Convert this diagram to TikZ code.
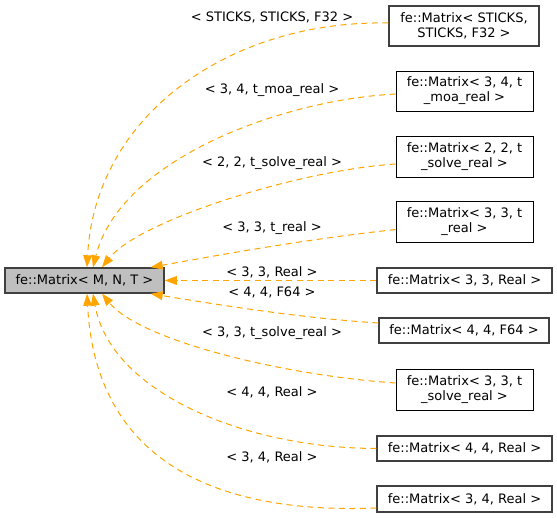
\documentclass[tikz,border=0pt]{standalone}
\usepackage{fontspec}
\setmainfont{DejaVu Sans}
\usetikzlibrary{arrows.meta}
\definecolor{edgeorange}{HTML}{FFA500}
\definecolor{basefill}{HTML}{BFBFBF}
\definecolor{boxborder}{HTML}{404040}
\begin{document}
\begin{tikzpicture}[x=1pt,y=-1pt,
  font=\fontsize{13}{15}\selectfont,
  box/.style={draw=boxborder, line width=1.3pt, fill=white, inner sep=0pt, align=center},
  thinbox/.style={draw=black, line width=0.8pt, fill=white, inner sep=0pt, align=center},
  basebox/.style={draw=boxborder, line width=1.5pt, fill=basefill, inner sep=0pt},
  edge/.style={draw=edgeorange, line width=1pt, dash pattern=on 6pt off 4.5pt,
    -{Triangle[length=12pt,width=9pt,fill=edgeorange,line width=0pt]}},
  lbl/.style={inner sep=0pt}]
\useasboundingbox (0,0) rectangle (557,518);

\node[basebox, minimum width=159pt, minimum height=25pt] (base) at (84.5,280.5) {fe::Matrix< M, N, T >};

\node[box, minimum width=150pt, minimum height=40pt] (n1) at (464,26) {fe::Matrix< STICKS,\\STICKS, F32 >};
\node[thinbox, minimum width=137pt, minimum height=40pt] (n2) at (464.5,91) {fe::Matrix< 3, 4, t\\\_moa\_real >};
\node[thinbox, minimum width=137pt, minimum height=41pt] (n3) at (464.5,156.5) {fe::Matrix< 2, 2, t\\\_solve\_real >};
\node[thinbox, minimum width=137pt, minimum height=41pt] (n4) at (464.5,221.5) {fe::Matrix< 3, 3, t\\\_real >};
\node[box, minimum width=175pt, minimum height=25pt] (n5) at (464.5,280.5) {fe::Matrix< 3, 3, Real >};
\node[box, minimum width=170pt, minimum height=25pt] (n6) at (464,330.5) {fe::Matrix< 4, 4, F64 >};
\node[thinbox, minimum width=137pt, minimum height=41pt] (n7) at (464.5,389.5) {fe::Matrix< 3, 3, t\\\_solve\_real >};
\node[box, minimum width=175pt, minimum height=25pt] (n8) at (464.5,448.5) {fe::Matrix< 4, 4, Real >};
\node[box, minimum width=175pt, minimum height=26pt] (n9) at (464.5,499) {fe::Matrix< 3, 4, Real >};

\draw[edge] ([yshift=3pt]n1.west) .. controls (230,20) and (95,115) .. ([xshift=2.5pt]base.north);
\draw[edge] ([yshift=-3pt]n2.west) .. controls (280,100) and (120,160) .. ([xshift=8.5pt]base.north);
\draw[edge] ([yshift=-7.5pt]n3.west) .. controls (300,170) and (140,220) .. ([xshift=17.5pt]base.north);
\draw[edge] ([yshift=-8pt]n4.west) .. controls (300,240) and (220,255) .. ([xshift=-14pt]base.north east);
\draw[edge] (n5.west) -- (base.east);
\draw[edge] ([yshift=7.5pt]n6.west) .. controls (300,318) and (220,305) .. ([xshift=-14pt]base.south east);
\draw[edge] ([yshift=6.5pt]n7.west) .. controls (280,375) and (140,340) .. ([xshift=17.5pt]base.south);
\draw[edge] (n8.west) .. controls (240,448) and (110,390) .. ([xshift=8.5pt]base.south);
\draw[edge] ([yshift=-9pt]n9.west) .. controls (200,515) and (95,450) .. ([xshift=2.5pt]base.south);

\node[lbl] (l1) at (272,17) {< STICKS, STICKS, F32 >};
\node[lbl] (l2) at (272,90) {< 3, 4, t\_moa\_real >};
\node[lbl] (l3) at (272,163.5) {< 2, 2, t\_solve\_real >};
\node[lbl] (l4) at (272,228.5) {< 3, 3, t\_real >};
\node[lbl] (l5) at (272,272) {< 3, 3, Real >};
\node[lbl] (l6) at (272,292) {< 4, 4, F64 >};
\node[lbl] (l7) at (272,333) {< 3, 3, t\_solve\_real >};
\node[lbl] (l8) at (272,392) {< 4, 4, Real >};
\node[lbl] (l9) at (272,457) {< 3, 4, Real >};
\end{tikzpicture}
\end{document}
